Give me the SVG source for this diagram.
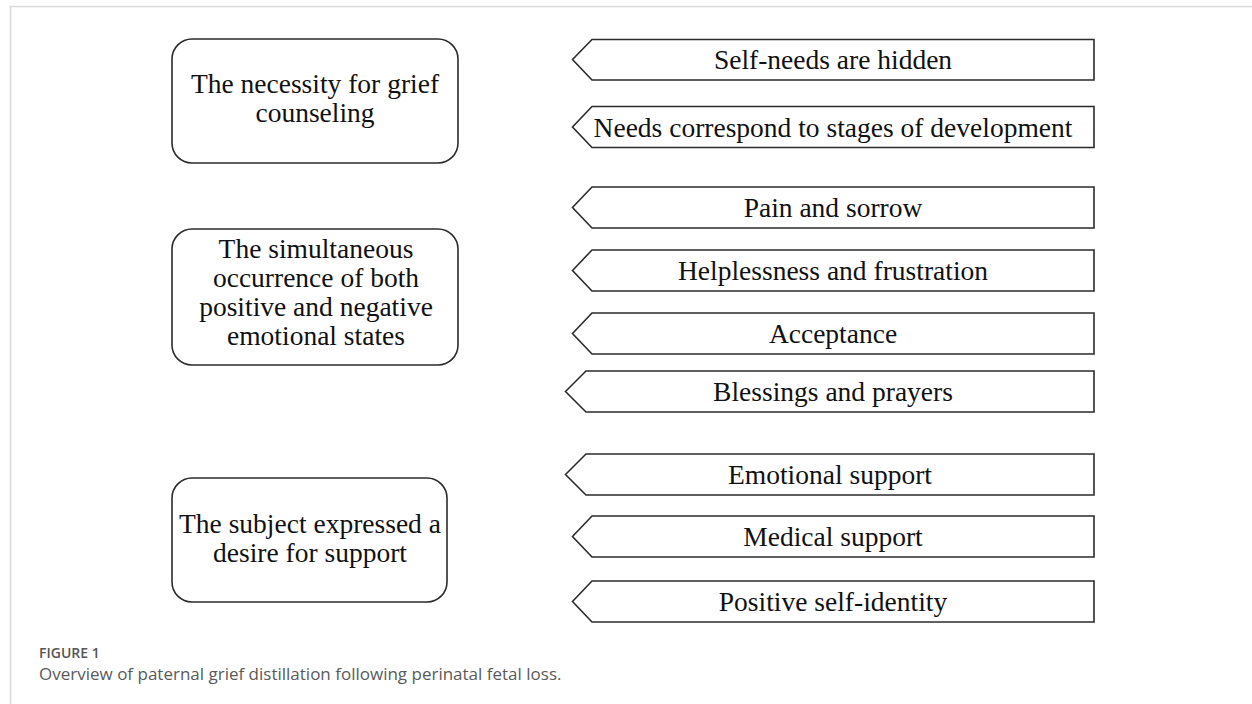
<svg xmlns="http://www.w3.org/2000/svg" width="1252" height="704" viewBox="0 0 1252 704">
  <style>
    .frame { stroke: #d9d9d9; stroke-width: 1.5; fill: none; }
    .theme { fill: #ffffff; stroke: #2b2b2b; stroke-width: 1.6; }
    .tag { fill: #ffffff; stroke: #2b2b2b; stroke-width: 1.6; stroke-linejoin: miter; }
    .lbl { font-family: "Liberation Serif", "Times New Roman", serif; font-size: 27.5px; fill: #111111; text-anchor: middle; }
    .fig { font-family: "Open Sans", "Noto Sans", sans-serif; font-size: 14px; font-weight: 600; fill: #555555; }
    .cap { font-family: "Open Sans", "Noto Sans", sans-serif; font-size: 17px; fill: #5a5a5a; }
  </style>

  <!-- page frame -->
  <path class="frame" d="M10.5 704 V6.5 H1252"/>

  <!-- themes (left column) -->
  <g id="theme-necessity">
    <rect class="theme" x="172" y="39" width="286" height="124" rx="20" ry="20"/>
    <text class="lbl" x="315" y="93">The necessity for grief</text>
    <text class="lbl" x="315" y="121.7">counseling</text>
  </g>
  <g id="theme-emotions">
    <rect class="theme" x="172" y="229" width="286" height="136" rx="20" ry="20"/>
    <text class="lbl" x="316" y="257.5">The simultaneous</text>
    <text class="lbl" x="316" y="286.5">occurrence of both</text>
    <text class="lbl" x="316" y="315.5">positive and negative</text>
    <text class="lbl" x="316" y="344.5">emotional states</text>
  </g>
  <g id="theme-support">
    <rect class="theme" x="172" y="478" width="275" height="124" rx="20" ry="20"/>
    <text class="lbl" x="310" y="533">The subject expressed a</text>
    <text class="lbl" x="310" y="561.7">desire for support</text>
  </g>

  <!-- subthemes (right column, pentagon tags) -->
  <g id="sub-hidden">
    <path class="tag" d="M572.5 59.5 L592 39.5 H1094 V80 H592 Z"/>
    <text class="lbl" x="833" y="69">Self-needs are hidden</text>
  </g>
  <g id="sub-stages">
    <path class="tag" d="M572.5 127 L592 106.5 H1094 V147.5 H592 Z"/>
    <text class="lbl" x="833" y="136.5">Needs correspond to stages of development</text>
  </g>
  <g id="sub-pain">
    <path class="tag" d="M572.5 207.5 L592 187 H1094 V228 H592 Z"/>
    <text class="lbl" x="833" y="217">Pain and sorrow</text>
  </g>
  <g id="sub-helpless">
    <path class="tag" d="M572.5 270.5 L592 250 H1094 V291 H592 Z"/>
    <text class="lbl" x="833" y="280">Helplessness and frustration</text>
  </g>
  <g id="sub-acceptance">
    <path class="tag" d="M572.5 333.5 L592 313 H1094 V354 H592 Z"/>
    <text class="lbl" x="833" y="343">Acceptance</text>
  </g>
  <g id="sub-blessings">
    <path class="tag" d="M565.5 391.5 L586 371 H1094 V412 H586 Z"/>
    <text class="lbl" x="833" y="401">Blessings and prayers</text>
  </g>
  <g id="sub-emotional">
    <path class="tag" d="M565.5 474.5 L586 454 H1094 V495 H586 Z"/>
    <text class="lbl" x="830" y="484">Emotional support</text>
  </g>
  <g id="sub-medical">
    <path class="tag" d="M572.5 536.5 L592 516 H1094 V557 H592 Z"/>
    <text class="lbl" x="833" y="546">Medical support</text>
  </g>
  <g id="sub-identity">
    <path class="tag" d="M572.5 601.5 L592 581 H1094 V622 H592 Z"/>
    <text class="lbl" x="833" y="611">Positive self-identity</text>
  </g>

  <!-- no connectors are drawn between themes and subthemes -->
  <g id="connectors"/>

  <!-- caption -->
  <text class="fig" x="39" y="658">FIGURE 1</text>
  <text class="cap" x="39" y="680">Overview of paternal grief distillation following perinatal fetal loss.</text>
</svg>
